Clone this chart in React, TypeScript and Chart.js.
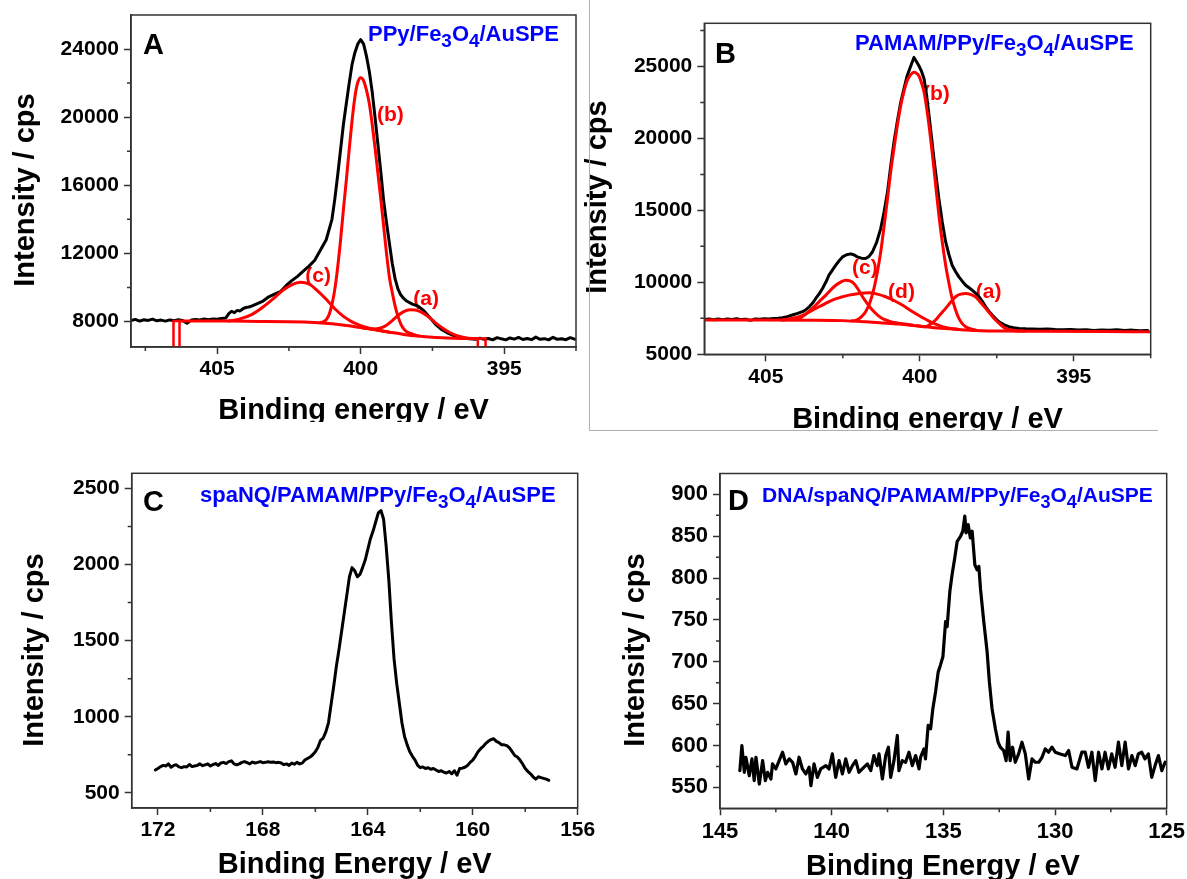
import React, { useEffect, useRef } from 'react';
import { Chart, registerables } from 'chart.js';

Chart.register(...registerables);

// ---------------- Panel A : PPy/Fe3O4/AuSPE (N 1s) ----------------
const A_X_TICKS = [405, 400, 395];
const A_X_MINOR = [407.5, 402.5, 397.5, 392.5];
const A_Y_TICKS = [8000, 12000, 16000, 20000, 24000];
const A_Y_MINOR = [10000, 14000, 18000, 22000];

const A_EXP_BE = [408.0, 407.85, 407.7, 407.55, 407.4, 407.25, 407.1, 406.95, 406.8, 406.65, 406.5, 406.35, 406.2, 406.05, 405.9, 405.75, 405.6, 405.45, 405.3, 405.15, 405.0, 404.85, 404.7, 404.6, 404.5, 404.4, 404.3, 404.2, 404.1, 404.0, 403.9, 403.8, 403.6, 403.4, 403.2, 403.0, 402.8, 402.6, 402.4, 402.2, 402.0, 401.8, 401.6, 401.4, 401.2, 401.0, 400.9, 400.8, 400.7, 400.6, 400.5, 400.4, 400.3, 400.2, 400.1, 400.0, 399.9, 399.8, 399.7, 399.6, 399.5, 399.4, 399.3, 399.2, 399.1, 399.0, 398.9, 398.8, 398.7, 398.6, 398.5, 398.4, 398.2, 398.0, 397.8, 397.6, 397.4, 397.2, 397.0, 396.8, 396.6, 396.4, 396.2, 396.0, 395.85, 395.7, 395.55, 395.4, 395.25, 395.1, 394.95, 394.8, 394.65, 394.5, 394.35, 394.2, 394.05, 393.9, 393.75, 393.6, 393.45, 393.3, 393.15, 393.0, 392.85, 392.7, 392.55];
const A_EXP_I = [8050, 8120, 8020, 8100, 8060, 8140, 8040, 8080, 8020, 8090, 8050, 8100, 8060, 7900, 8080, 8120, 8090, 8140, 8100, 8150, 8130, 8180, 8200, 8450, 8600, 8520, 8650, 8620, 8750, 8820, 8850, 8900, 9050, 9200, 9450, 9600, 9750, 10100, 10400, 10650, 10950, 11250, 11600, 12200, 12800, 14000, 15200, 16600, 18100, 19600, 20800, 22000, 23100, 23800, 24300, 24550, 24300, 23600, 22700, 21500, 20000, 18400, 16800, 15100, 13800, 12600, 11400, 10500, 9900, 9550, 9350, 9200, 9020, 8900, 8630, 8250, 7850, 7550, 7350, 7200, 7080, 7020, 6980, 6960, 7020, 6950, 7000, 6920, 7050, 6980, 6920, 7030, 6960, 7060, 6940, 7000, 6930, 7080, 6950, 6990, 6920, 7070, 6950, 6980, 6930, 7050, 6960];

const A_BASE_BE = [406.31, 405.5, 404.5, 403.5, 402.5, 402.0, 401.5, 401.0, 400.5, 400.0, 399.5, 399.0, 398.5, 398.0, 397.5, 397.0, 396.5, 395.92];
const A_BASE_I = [8030, 8030, 8020, 8005, 7985, 7965, 7930, 7860, 7760, 7640, 7510, 7370, 7240, 7140, 7070, 7030, 7005, 6995];

const A_MARK_L_BE = [406.52, 406.52, 406.31, 406.31];
const A_MARK_L_I = [6000, 8030, 8030, 6000];
const A_MARK_R_BE = [395.92, 395.92, 395.65, 395.65];
const A_MARK_R_I = [6000, 6995, 6995, 6000];

const A_PC_BE = [404.6, 404.2, 403.8, 403.4, 403.0, 402.7, 402.4, 402.1, 401.8, 401.5, 401.2, 400.9, 400.6, 400.3, 400.0, 399.7, 399.4, 399.0];
const A_PC_I = [8025, 8150, 8400, 8850, 9400, 9850, 10150, 10300, 10200, 9800, 9300, 8750, 8300, 7980, 7760, 7600, 7480, 7370];

const A_PB_BE = [401.4, 401.3, 401.2, 401.1, 401.0, 400.9, 400.8, 400.7, 400.6, 400.5, 400.4, 400.3, 400.2, 400.1, 400.0, 399.9, 399.8, 399.7, 399.6, 399.5, 399.4, 399.3, 399.2, 399.1, 399.0, 398.9, 398.8, 398.7, 398.6, 398.5, 398.4, 398.2, 398.0];
const A_PB_I = [7940, 7980, 8100, 8400, 9000, 9900, 11200, 12800, 14600, 16300, 18100, 19800, 21200, 22050, 22320, 22150, 21600, 20800, 19600, 18200, 16700, 15200, 13600, 12000, 10600, 9700, 8900, 8300, 7850, 7560, 7400, 7260, 7150];

const A_PA_BE = [400.0, 399.6, 399.3, 399.1, 398.9, 398.7, 398.5, 398.3, 398.1, 397.9, 397.7, 397.5, 397.3, 397.1, 396.9, 396.7, 396.4, 396.1, 395.92];
const A_PA_I = [7640, 7560, 7620, 7780, 8050, 8350, 8580, 8690, 8680, 8560, 8350, 8080, 7800, 7560, 7350, 7200, 7060, 7000, 6995];

// ---------------- Panel B : PAMAM/PPy/Fe3O4/AuSPE (N 1s) ----------------
const B_X_TICKS = [405, 400, 395];
const B_X_MINOR = [402.5, 397.5, 392.5];
const B_Y_TICKS = [5000, 10000, 15000, 20000, 25000];
const B_Y_MINOR = [7500, 12500, 17500, 22500, 27500];

const B_EXP_BE = [407.0, 406.85, 406.7, 406.55, 406.4, 406.25, 406.1, 405.95, 405.8, 405.65, 405.5, 405.35, 405.2, 405.05, 404.9, 404.75, 404.6, 404.46, 404.3, 404.14, 403.97, 403.81, 403.7, 403.59, 403.48, 403.38, 403.27, 403.16, 403.05, 402.95, 402.84, 402.73, 402.62, 402.51, 402.38, 402.24, 402.13, 402.03, 401.9, 401.76, 401.65, 401.54, 401.4, 401.27, 401.16, 401.05, 400.95, 400.84, 400.73, 400.62, 400.51, 400.41, 400.3, 400.19, 400.11, 400.03, 399.95, 399.86, 399.78, 399.7, 399.62, 399.54, 399.46, 399.38, 399.27, 399.16, 399.05, 398.95, 398.84, 398.73, 398.62, 398.51, 398.4, 398.3, 398.19, 398.08, 397.97, 397.86, 397.75, 397.65, 397.54, 397.43, 397.27, 397.11, 396.95, 396.78, 396.55, 396.35, 396.1, 395.85, 395.6, 395.35, 395.1, 394.85, 394.6, 394.35, 394.1, 393.85, 393.6, 393.35, 393.1, 392.85, 392.6];
const B_EXP_I = [7420, 7460, 7400, 7450, 7410, 7460, 7420, 7470, 7410, 7440, 7360, 7450, 7430, 7470, 7450, 7490, 7500, 7540, 7620, 7730, 7840, 7960, 8100, 8300, 8560, 8880, 9200, 9570, 10020, 10500, 10850, 11190, 11500, 11770, 11920, 11980, 11900, 11770, 11680, 11650, 11800, 12110, 12800, 13730, 14900, 16270, 18000, 19740, 21200, 22510, 23500, 24360, 25000, 25630, 25350, 25050, 24700, 24130, 23000, 21590, 20100, 18580, 17200, 15810, 14200, 12810, 11900, 11190, 10750, 10380, 10080, 9800, 9620, 9460, 9250, 9000, 8680, 8300, 7980, 7730, 7480, 7260, 7060, 6920, 6850, 6800, 6770, 6760, 6740, 6760, 6720, 6700, 6730, 6690, 6710, 6660, 6690, 6670, 6700, 6650, 6680, 6640, 6660];

const B_BASE_BE = [407.0, 405.0, 403.5, 402.5, 401.76, 401.2, 400.68, 400.1, 399.6, 399.0, 398.5, 398.0, 397.4, 396.0, 394.0, 392.5];
const B_BASE_I = [7380, 7380, 7370, 7340, 7260, 7180, 7100, 6980, 6870, 6770, 6690, 6640, 6620, 6600, 6580, 6570];

const B_PB_BE = [402.2, 402.08, 401.9, 401.76, 401.62, 401.49, 401.38, 401.27, 401.16, 401.05, 400.95, 400.84, 400.73, 400.62, 400.51, 400.41, 400.3, 400.19, 400.11, 400.03, 399.95, 399.86, 399.78, 399.7, 399.62, 399.54, 399.46, 399.38, 399.27, 399.16, 399.05, 398.95, 398.84, 398.73, 398.62, 398.51, 398.35, 398.19];
const B_PB_I = [7330, 7360, 7600, 7960, 8600, 9570, 10700, 12110, 13900, 15810, 17600, 19280, 20900, 22280, 23300, 24010, 24420, 24590, 24530, 24360, 23900, 23200, 22150, 20890, 19450, 17890, 16250, 14660, 12800, 11190, 9900, 8880, 8100, 7490, 7130, 6920, 6770, 6690];

const B_PC_BE = [404.46, 404.2, 403.92, 403.7, 403.49, 403.27, 403.05, 402.89, 402.73, 402.57, 402.41, 402.27, 402.14, 402.0, 401.86, 401.7, 401.54, 401.38, 401.22, 401.0, 400.78, 400.5, 400.24];
const B_PC_I = [7390, 7440, 7490, 7800, 8190, 8660, 9110, 9480, 9800, 10020, 10150, 10100, 9920, 9500, 9000, 8500, 8070, 7740, 7490, 7310, 7190, 7100, 7030];

const B_PD_BE = [404.46, 404.2, 403.92, 403.65, 403.38, 403.1, 402.84, 402.57, 402.3, 401.97, 401.65, 401.38, 401.11, 400.84, 400.57, 400.35, 400.14, 399.92, 399.7, 399.49, 399.27, 399.0, 398.73];
const B_PD_I = [7400, 7480, 7610, 7870, 8190, 8490, 8770, 8960, 9110, 9230, 9270, 9180, 9000, 8740, 8420, 8120, 7840, 7560, 7310, 7100, 6920, 6800, 6730];

const B_PA_BE = [400.1, 399.81, 399.65, 399.49, 399.33, 399.16, 399.0, 398.84, 398.67, 398.51, 398.35, 398.19, 398.03, 397.86, 397.7, 397.54, 397.38, 397.22, 397.05, 396.89, 396.6];
const B_PA_I = [6980, 6920, 7100, 7380, 7780, 8190, 8620, 9000, 9180, 9230, 9160, 9000, 8620, 8190, 7780, 7380, 7060, 6800, 6700, 6640, 6610];

// ---------------- Panel C : spaNQ/PAMAM/PPy/Fe3O4/AuSPE (S 2p) ----------------
const C_X_TICKS = [172, 168, 164, 160, 156];
const C_X_MINOR = [170, 166, 162, 158];
const C_Y_TICKS = [500, 1000, 1500, 2000, 2500];
const C_Y_MINOR = [750, 1250, 1750, 2250];

const C_BE = [172.1, 172.0, 171.9, 171.8, 171.7, 171.6, 171.5, 171.4, 171.3, 171.2, 171.1, 171.0, 170.9, 170.8, 170.7, 170.6, 170.5, 170.4, 170.3, 170.2, 170.1, 170.0, 169.9, 169.8, 169.7, 169.6, 169.5, 169.4, 169.3, 169.2, 169.1, 169.0, 168.9, 168.8, 168.7, 168.6, 168.5, 168.4, 168.3, 168.2, 168.1, 168.0, 167.9, 167.8, 167.7, 167.6, 167.5, 167.4, 167.3, 167.2, 167.1, 167.0, 166.9, 166.8, 166.7, 166.6, 166.5, 166.4, 166.3, 166.2, 166.1, 166.0, 165.9, 165.8, 165.7, 165.6, 165.5, 165.4, 165.3, 165.2, 165.1, 165.0, 164.9, 164.8, 164.7, 164.6, 164.5, 164.4, 164.3, 164.2, 164.1, 164.0, 163.9, 163.8, 163.7, 163.6, 163.5, 163.4, 163.3, 163.2, 163.1, 163.0, 162.9, 162.8, 162.7, 162.6, 162.5, 162.4, 162.3, 162.2, 162.1, 162.0, 161.9, 161.8, 161.7, 161.6, 161.5, 161.4, 161.3, 161.2, 161.1, 161.0, 160.9, 160.8, 160.7, 160.6, 160.5, 160.4, 160.3, 160.2, 160.1, 160.0, 159.9, 159.8, 159.7, 159.6, 159.5, 159.4, 159.3, 159.2, 159.1, 159.0, 158.9, 158.8, 158.7, 158.6, 158.5, 158.4, 158.3, 158.2, 158.1, 158.0, 157.9, 157.8, 157.7, 157.6, 157.5, 157.4, 157.3, 157.2, 157.1];
const C_I = [650, 660, 672, 680, 676, 690, 668, 680, 684, 670, 665, 672, 670, 686, 672, 676, 680, 690, 678, 684, 690, 676, 686, 692, 680, 696, 700, 692, 705, 710, 690, 684, 690, 700, 705, 698, 690, 702, 696, 700, 705, 698, 700, 704, 700, 702, 698, 700, 696, 685, 690, 680, 695, 688, 700, 690, 695, 715, 725, 735, 750, 770, 800, 845, 860, 900, 960, 1080, 1200, 1330, 1440, 1560, 1680, 1800, 1920, 1980, 1960, 1920, 1935, 1980, 2030, 2100, 2170, 2220, 2280, 2340, 2355, 2300, 2120, 1900, 1620, 1380, 1220, 1090, 960, 870, 815, 770, 740, 715, 680, 665, 670, 660, 665, 655, 660, 650, 640, 645, 635, 630, 640, 625, 645, 615, 660, 662, 668, 680, 700, 715, 740, 770, 790, 805, 825, 840, 850, 855, 838, 830, 815, 815, 810, 795, 770, 745, 735, 715, 690, 660, 640, 625, 605, 590, 605, 600, 595, 590, 582];

// ---------------- Panel D : DNA/spaNQ/PAMAM/PPy/Fe3O4/AuSPE (P 2p) ----------------
const D_X_TICKS = [145, 140, 135, 130, 125];
const D_X_MINOR = [142.5, 137.5, 132.5, 127.5];
const D_Y_TICKS = [550, 600, 650, 700, 750, 800, 850, 900];
const D_Y_MINOR = [575, 625, 675, 725, 775, 825, 875];

const D_BE = [144.11, 144.02, 143.91, 143.84, 143.69, 143.57, 143.47, 143.39, 143.24, 143.09, 142.97, 142.87, 142.72, 142.65, 142.5, 142.35, 142.2, 142.05, 141.9, 141.75, 141.6, 141.46, 141.31, 141.16, 141.01, 140.93, 140.79, 140.64, 140.49, 140.26, 140.12, 139.97, 139.82, 139.67, 139.52, 139.37, 139.22, 139.07, 138.92, 138.78, 138.63, 138.4, 138.25, 138.11, 137.96, 137.88, 137.73, 137.58, 137.46, 137.36, 137.21, 137.06, 136.99, 136.84, 136.69, 136.54, 136.39, 136.24, 136.09, 136.02, 135.87, 135.8, 135.68, 135.57, 135.47, 135.35, 135.23, 135.13, 135.02, 134.9, 134.83, 134.71, 134.61, 134.49, 134.38, 134.23, 134.13, 134.04, 133.98, 133.89, 133.79, 133.71, 133.59, 133.49, 133.41, 133.34, 133.19, 133.04, 132.94, 132.82, 132.67, 132.55, 132.45, 132.3, 132.19, 132.1, 132.01, 131.9, 131.78, 131.63, 131.48, 131.33, 131.18, 131.03, 130.88, 130.73, 130.58, 130.44, 130.29, 130.14, 129.99, 129.77, 129.54, 129.39, 129.24, 129.02, 128.8, 128.65, 128.5, 128.35, 128.2, 128.05, 127.9, 127.76, 127.61, 127.46, 127.31, 127.16, 127.01, 126.86, 126.71, 126.56, 126.41, 126.27, 126.12, 125.97, 125.82, 125.67, 125.52, 125.37, 125.22, 125.07];
const D_I = [570, 600, 568, 586, 564, 584, 558, 586, 554, 582, 558, 568, 560, 578, 572, 582, 592, 578, 584, 580, 566, 586, 572, 566, 574, 552, 578, 562, 572, 576, 572, 590, 562, 582, 566, 584, 568, 576, 582, 568, 572, 578, 570, 588, 576, 590, 560, 588, 598, 562, 582, 612, 570, 582, 580, 592, 576, 588, 572, 586, 596, 584, 624, 620, 644, 664, 688, 696, 706, 748, 742, 784, 804, 824, 844, 850, 856, 874, 854, 864, 848, 856, 816, 810, 814, 788, 748, 712, 676, 644, 620, 604, 598, 594, 582, 616, 582, 598, 580, 590, 604, 590, 560, 584, 580, 580, 586, 596, 592, 598, 592, 590, 588, 594, 574, 572, 592, 592, 574, 592, 558, 592, 572, 592, 572, 590, 574, 604, 576, 604, 572, 588, 576, 590, 592, 584, 590, 562, 576, 588, 570, 580];

// ---------------- helpers ----------------
const FAMILY = '"Liberation Sans", Arial, Helvetica, "DejaVu Sans", sans-serif';
const AXIS = '#333333';
const RED = '#ff0000';
const BLUE = '#0000ff';
const BLACK = '#000000';

type Series = { be: number[]; val: number[]; color: string; width: number; smooth: boolean };
type Part = { t: string; sub?: boolean };
type RedLabel = { t: string; x: number; y: number };

interface PanelCfg {
  key: string;
  left: number; top: number; width: number; height: number;
  area: { left: number; top: number; right: number; bottom: number };
  xMin: number; xMax: number; yMin: number; yMax: number;
  xTicks: number[]; yTicks: number[]; xMinor: number[]; yMinor: number[];
  tickSize: number;
  series: Series[];
  letter: string; letterPos: [number, number];
  label: Part[]; labelPos: [number, number]; labelSize: number;
  xTitle: string; xTitlePos: [number, number];
  yTitle: string; yTitlePos: [number, number];
  redLabels: RedLabel[];
}

const font = (size: number) => `bold ${size}px ${FAMILY}`;
const zip = (xs: number[], ys: number[]) => xs.map((x, i) => ({ x, y: ys[i] }));
const FE_LABEL = (prefix: string): Part[] => [
  { t: prefix + 'PPy/Fe' }, { t: '3', sub: true }, { t: 'O' }, { t: '4', sub: true }, { t: '/AuSPE' },
];

function makeDecor(cfg: PanelCfg) {
  return {
    id: 'decor' + cfg.key,
    beforeDatasetsDraw(chart: any) {
      const { ctx } = chart;
      const xs = chart.scales.x;
      const ys = chart.scales.y;
      ctx.save();
      ctx.fillStyle = RED;
      ctx.font = font(21);
      ctx.textAlign = 'left';
      ctx.textBaseline = 'alphabetic';
      cfg.redLabels.forEach((l) => ctx.fillText(l.t, xs.getPixelForValue(l.x), ys.getPixelForValue(l.y)));
      ctx.restore();
    },
    afterDraw(chart: any) {
      const { ctx, chartArea: a } = chart;
      const xs = chart.scales.x;
      const ys = chart.scales.y;
      ctx.save();
      ctx.strokeStyle = AXIS;
      ctx.lineWidth = 1.5;
      ctx.strokeRect(a.left, a.top, a.right - a.left, a.bottom - a.top);
      ctx.beginPath();
      cfg.xMinor.forEach((v) => {
        const p = xs.getPixelForValue(v);
        ctx.moveTo(p, a.bottom);
        ctx.lineTo(p, a.bottom + 4);
      });
      cfg.yMinor.forEach((v) => {
        const p = ys.getPixelForValue(v);
        ctx.moveTo(a.left - 4, p);
        ctx.lineTo(a.left, p);
      });
      ctx.stroke();

      ctx.textAlign = 'left';
      ctx.textBaseline = 'alphabetic';
      ctx.fillStyle = BLACK;
      ctx.font = font(29);
      ctx.fillText(cfg.letter, cfg.letterPos[0], cfg.letterPos[1]);

      let cx = cfg.labelPos[0];
      ctx.fillStyle = BLUE;
      cfg.label.forEach((p) => {
        const size = p.sub ? cfg.labelSize * 0.86 : cfg.labelSize;
        ctx.font = font(size);
        ctx.fillText(p.t, cx, cfg.labelPos[1] + (p.sub ? cfg.labelSize * 0.27 : 0));
        cx += ctx.measureText(p.t).width;
      });

      ctx.fillStyle = BLACK;
      ctx.font = font(29);
      ctx.textAlign = 'center';
      ctx.fillText(cfg.xTitle, cfg.xTitlePos[0], cfg.xTitlePos[1]);

      ctx.translate(cfg.yTitlePos[0], cfg.yTitlePos[1]);
      ctx.rotate(-Math.PI / 2);
      ctx.textBaseline = 'middle';
      ctx.fillText(cfg.yTitle, 0, 0);
      ctx.restore();
    },
  };
}

function Panel({ cfg }: { cfg: PanelCfg }) {
  const ref = useRef<HTMLCanvasElement | null>(null);
  useEffect(() => {
    if (!ref.current) return;
    const tickFont = { family: FAMILY, size: cfg.tickSize, weight: 'bold' as const };
    const chart = new Chart(ref.current, {
      type: 'line',
      data: {
        datasets: cfg.series.map((s) => ({
          data: zip(s.be, s.val),
          borderColor: s.color,
          borderWidth: s.width,
          pointRadius: 0,
          fill: false,
          tension: s.smooth ? 0.4 : 0,
          cubicInterpolationMode: s.smooth ? ('monotone' as const) : ('default' as const),
          borderJoinStyle: 'round' as const,
          borderCapStyle: 'round' as const,
          order: s.color === BLACK ? 1 : 0,
        })),
      },
      options: {
        animation: false,
        responsive: false,
        maintainAspectRatio: false,
        events: [],
        layout: { padding: { left: 0, top: cfg.area.top, right: cfg.width - cfg.area.right, bottom: 0 } },
        plugins: { legend: { display: false }, tooltip: { enabled: false } },
        scales: {
          x: {
            type: 'linear',
            reverse: true,
            min: cfg.xMin,
            max: cfg.xMax,
            afterBuildTicks: (s: any) => { s.ticks = cfg.xTicks.map((v) => ({ value: v })); },
            afterFit: (s: any) => { s.height = cfg.height - cfg.area.bottom; s.paddingLeft = 0; s.paddingRight = 0; },
            ticks: { font: tickFont, color: BLACK, padding: 3, maxRotation: 0, autoSkip: false, callback: (v: any) => String(v) },
            grid: { display: true, drawOnChartArea: false, drawTicks: true, tickLength: 7, tickColor: AXIS, tickWidth: 1.5 },
            border: { display: true, color: AXIS, width: 1.5 },
          },
          y: {
            type: 'linear',
            min: cfg.yMin,
            max: cfg.yMax,
            afterBuildTicks: (s: any) => { s.ticks = cfg.yTicks.map((v) => ({ value: v })); },
            afterFit: (s: any) => { s.width = cfg.area.left; s.paddingTop = 0; s.paddingBottom = 0; },
            ticks: { font: tickFont, color: BLACK, padding: 5, autoSkip: false, callback: (v: any) => String(v) },
            grid: { display: true, drawOnChartArea: false, drawTicks: true, tickLength: 7, tickColor: AXIS, tickWidth: 1.5 },
            border: { display: true, color: AXIS, width: 1.5 },
          },
        },
      },
      plugins: [makeDecor(cfg)],
    } as any);
    return () => chart.destroy();
  }, [cfg]);
  return (
    <canvas
      ref={ref}
      width={cfg.width}
      height={cfg.height}
      style={{ position: 'absolute', left: cfg.left, top: cfg.top, width: cfg.width, height: cfg.height }}
    />
  );
}

const red = (be: number[], val: number[]): Series => ({ be, val, color: RED, width: 3, smooth: true });
const redStraight = (be: number[], val: number[]): Series => ({ be, val, color: RED, width: 2.5, smooth: false });
const black = (be: number[], val: number[], w = 3): Series => ({ be, val, color: BLACK, width: w, smooth: false });

const PANEL_A: PanelCfg = {
  key: 'A', left: 0, top: 0, width: 590, height: 422,
  area: { left: 131, top: 15, right: 576, bottom: 347 },
  xMin: 392.5, xMax: 408, yMin: 6500, yMax: 26000,
  xTicks: A_X_TICKS, yTicks: A_Y_TICKS, xMinor: A_X_MINOR, yMinor: A_Y_MINOR,
  tickSize: 21,
  series: [
    black(A_EXP_BE, A_EXP_I),
    red(A_BASE_BE, A_BASE_I),
    red(A_PC_BE, A_PC_I),
    red(A_PB_BE, A_PB_I),
    red(A_PA_BE, A_PA_I),
    redStraight(A_MARK_L_BE, A_MARK_L_I),
    redStraight(A_MARK_R_BE, A_MARK_R_I),
  ],
  letter: 'A', letterPos: [143, 54],
  label: FE_LABEL(''), labelPos: [368, 41], labelSize: 22,
  xTitle: 'Binding energy / eV', xTitlePos: [353.5, 419],
  yTitle: 'Intensity / cps', yTitlePos: [25.5, 190],
  redLabels: [
    { t: '(b)', x: 399.43, y: 19760 },
    { t: '(c)', x: 401.93, y: 10340 },
    { t: '(a)', x: 398.17, y: 8984 },
  ],
};

const PANEL_B: PanelCfg = {
  key: 'B', left: 580, top: 0, width: 607, height: 430,
  area: { left: 124.3, top: 23.3, right: 570.7, bottom: 354.3 },
  xMin: 392.5, xMax: 407, yMin: 5000, yMax: 28000,
  xTicks: B_X_TICKS, yTicks: B_Y_TICKS, xMinor: B_X_MINOR, yMinor: B_Y_MINOR,
  tickSize: 21,
  series: [
    black(B_EXP_BE, B_EXP_I),
    red(B_BASE_BE, B_BASE_I),
    red(B_PC_BE, B_PC_I),
    red(B_PD_BE, B_PD_I),
    red(B_PB_BE, B_PB_I),
    red(B_PA_BE, B_PA_I),
  ],
  letter: 'B', letterPos: [135, 63],
  label: FE_LABEL('PAMAM/'), labelPos: [275, 50], labelSize: 22,
  xTitle: 'Binding energy / eV', xTitlePos: [347.5, 428],
  yTitle: 'Intensity / cps', yTitlePos: [18, 197],
  redLabels: [
    { t: '(b)', x: 399.9, y: 22690 },
    { t: '(c)', x: 402.2, y: 10565 },
    { t: '(d)', x: 401.03, y: 8900 },
    { t: '(a)', x: 398.18, y: 8900 },
  ],
};

const PANEL_C: PanelCfg = {
  key: 'C', left: 0, top: 440, width: 605, height: 439,
  area: { left: 131.7, top: 33.3, right: 577.7, bottom: 368 },
  xMin: 156, xMax: 173, yMin: 400, yMax: 2600,
  xTicks: C_X_TICKS, yTicks: C_Y_TICKS, xMinor: C_X_MINOR, yMinor: C_Y_MINOR,
  tickSize: 21,
  series: [black(C_BE, C_I)],
  letter: 'C', letterPos: [143, 70.5],
  label: FE_LABEL('spaNQ/PAMAM/'), labelPos: [200, 62], labelSize: 22,
  xTitle: 'Binding Energy / eV', xTitlePos: [354.7, 433],
  yTitle: 'Intensity / cps', yTitlePos: [35, 210],
  redLabels: [],
};

const PANEL_D: PanelCfg = {
  key: 'D', left: 605, top: 440, width: 582, height: 439,
  area: { left: 115, top: 33.5, right: 561.7, bottom: 368.3 },
  xMin: 125, xMax: 145, yMin: 525, yMax: 925,
  xTicks: D_X_TICKS, yTicks: D_Y_TICKS, xMinor: D_X_MINOR, yMinor: D_Y_MINOR,
  tickSize: 22,
  series: [black(D_BE, D_I, 3.2)],
  letter: 'D', letterPos: [123, 70],
  label: FE_LABEL('DNA/spaNQ/PAMAM/'), labelPos: [157, 62], labelSize: 21,
  xTitle: 'Binding Energy / eV', xTitlePos: [338, 435],
  yTitle: 'Intensity / cps', yTitlePos: [31, 210],
  redLabels: [],
};

export default function App() {
  return (
    <div style={{ position: 'absolute', left: 0, top: 0, width: 1187, height: 879, background: '#ffffff', overflow: 'hidden' }}>
      <Panel cfg={PANEL_A} />
      <Panel cfg={PANEL_B} />
      <div style={{ position: 'absolute', left: 589, top: 0, width: 568, height: 430, borderLeft: '1px solid #b0b0b0', borderBottom: '1px solid #b0b0b0', pointerEvents: 'none' }} />
      <Panel cfg={PANEL_C} />
      <Panel cfg={PANEL_D} />
    </div>
  );
}
